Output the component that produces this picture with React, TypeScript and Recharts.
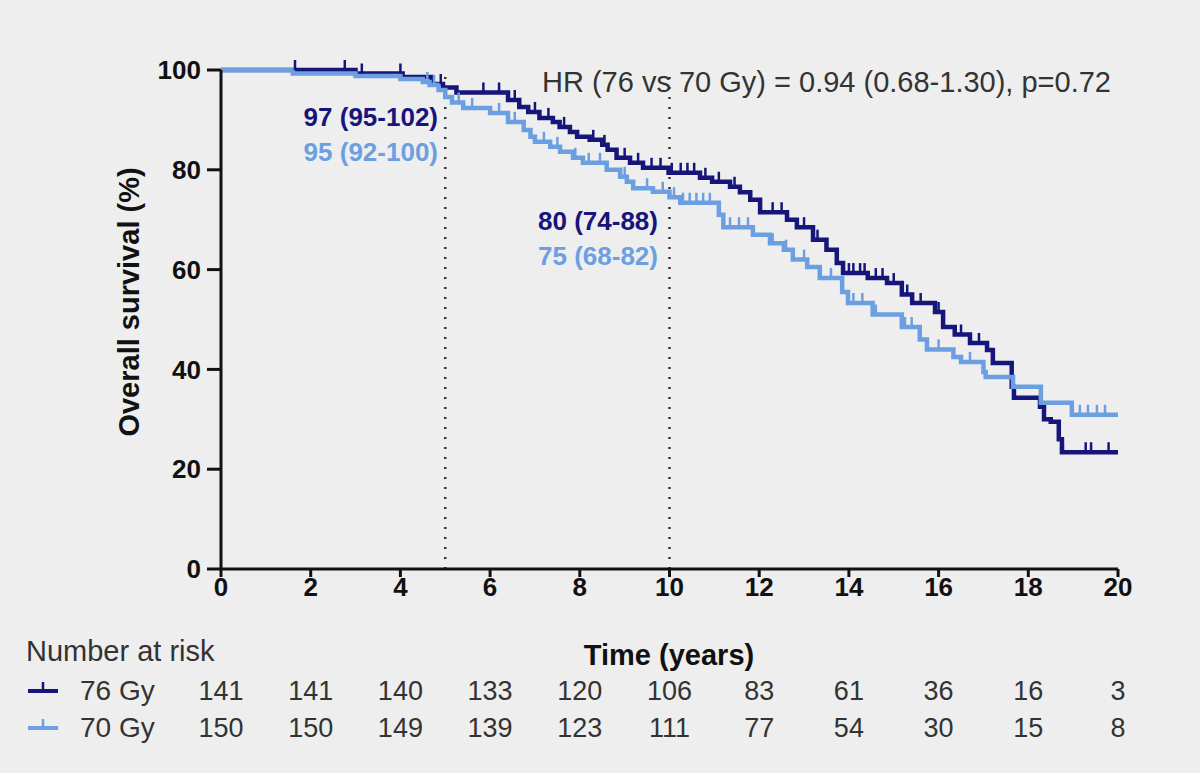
import React from 'react';
import {
  ComposedChart,
  Line,
  Scatter,
  XAxis,
  YAxis,
  ReferenceLine,
} from 'recharts';

// Kaplan-Meier steps, [time (years), survival (%)]
const steps76: [number, number][] = [
  [0, 100], [3.0, 99.3], [4.05, 98.6], [4.7, 97.2], [4.95, 96.5], [5.25, 95.5],
  [6.4, 94], [6.65, 92.6], [6.85, 91.6], [7.1, 90.4], [7.4, 89.6], [7.55, 88.6],
  [7.78, 87.6], [7.94, 86.6], [8.22, 86], [8.5, 85], [8.62, 84], [8.82, 82.4],
  [9.12, 81.4], [9.41, 80.4], [9.98, 79.4], [10.68, 78.4], [10.95, 77.6],
  [11.35, 76.6], [11.57, 75.5], [11.8, 74], [12.02, 71.5], [12.62, 70],
  [12.84, 68.5], [13.2, 66], [13.5, 64], [13.73, 61.3], [13.87, 59.3],
  [14.42, 58.3], [14.85, 57.3], [15.18, 55], [15.41, 53.3], [15.92, 51.5],
  [16.1, 48.5], [16.36, 47], [16.7, 45.3], [17.08, 43.9], [17.21, 41.3],
  [17.63, 36.5], [17.68, 34.3], [18.26, 32.5], [18.35, 30], [18.5, 29.5],
  [18.68, 26], [18.75, 23.4], [20, 23.4],
];

const steps70: [number, number][] = [
  [0, 100], [1.6, 99.3], [3.0, 98.8], [4.0, 98.2], [4.5, 97.6], [4.65, 97],
  [4.85, 96], [5.0, 94.6], [5.15, 93.5], [5.4, 92.4], [6.0, 91.4], [6.4, 89.6],
  [6.75, 88], [6.9, 86.6], [7.0, 85.6], [7.34, 84.6], [7.56, 83.6], [7.85, 82.4],
  [8.07, 81.4], [8.6, 80], [8.9, 78.6], [9.05, 77.6], [9.19, 76.3], [9.63, 75.6],
  [10.0, 74.5], [10.24, 73.4], [11.1, 71], [11.2, 68.5], [11.86, 67],
  [12.24, 65.3], [12.55, 64], [12.75, 62], [13.07, 60.5], [13.35, 58.3],
  [13.85, 55.5], [13.98, 53.3], [14.53, 51], [15.18, 48.5], [15.58, 46],
  [15.74, 44], [16.33, 42.5], [16.5, 41.5], [17.0, 39.5], [17.05, 38.5],
  [17.66, 36.5], [18.28, 33.3], [18.97, 30.9], [20, 30.9],
];

// censoring times (years)
const censor76 = [
  1.65, 2.76, 3.14, 4.0, 4.9, 5.85, 6.2, 6.55, 7.0, 7.3, 7.65, 8.3, 8.55, 9.0,
  9.3, 9.6, 9.8, 10.05, 10.25, 10.4, 10.55, 10.8, 11.1, 11.45, 12.3, 12.5,
  13.0, 13.3, 14.0, 14.1, 14.25, 14.35, 14.6, 14.75, 15.0, 15.3, 15.6, 16.0,
  16.5, 16.9, 18.77, 19.28, 19.4, 19.79,
];
const censor70 = [
  4.6, 4.75, 5.3, 5.6, 6.2, 6.55, 7.2, 7.5, 7.9, 8.2, 8.45, 9.0, 9.5, 9.85,
  10.1, 10.3, 10.45, 10.6, 10.75, 10.9, 11.35, 11.55, 11.75, 12.3, 12.6, 13.0,
  13.6, 14.1, 14.3, 14.6, 15.25, 15.4, 16.0, 16.7, 19.15, 19.33, 19.53, 19.71,
];

const timeTicks = [0, 2, 4, 6, 8, 10, 12, 14, 16, 18, 20];
const survivalTicks = [0, 20, 40, 60, 80, 100];
const atRisk76 = [141, 141, 140, 133, 120, 106, 83, 61, 36, 16, 3];
const atRisk70 = [150, 150, 149, 139, 123, 111, 77, 54, 30, 15, 8];

const DARK = '#15157a';
const LIGHT = '#6c9fe2';
const FONT = '"Liberation Sans", Arial, Helvetica, sans-serif';

const PLOT_LEFT = 221;
const PLOT_RIGHT = 1118;

const toPoints = (s: [number, number][]) => s.map(([t, v]) => ({ t, s: v }));
const survivalAt = (s: [number, number][], t: number) => {
  let v = s[0][1];
  for (const [tt, vv] of s) if (tt <= t) v = vv;
  return v;
};
const censorPoints = (s: [number, number][], times: number[]) =>
  times.map((t) => ({ t, s: survivalAt(s, t) }));

const CensorTick = (color: string) => (props: any) => {
  const { cx, cy } = props;
  if (cx == null || cy == null) return <g />;
  return <line x1={cx} x2={cx} y1={cy} y2={cy - 10} stroke={color} strokeWidth={2.5} />;
};

const text = (extra: React.CSSProperties): React.CSSProperties => ({
  position: 'absolute',
  fontFamily: FONT,
  lineHeight: 1,
  whiteSpace: 'nowrap',
  ...extra,
});

const App: React.FC = () => {
  const tickX = (i: number) => PLOT_LEFT + (i * (PLOT_RIGHT - PLOT_LEFT)) / (timeTicks.length - 1);

  return (
    <div style={{ position: 'absolute', left: 0, top: 0, width: 1200, height: 773, background: '#eeeeee' }}>
      <ComposedChart
        width={1200}
        height={773}
        margin={{ top: 70, right: 82, bottom: 154, left: 141 }}
      >
        <XAxis
          type="number"
          dataKey="t"
          domain={[0, 20]}
          ticks={timeTicks}
          height={50}
          axisLine={{ stroke: '#111', strokeWidth: 3 }}
          tickLine={{ stroke: '#111', strokeWidth: 3 }}
          tickSize={8}
          tickMargin={1}
          tick={{ fill: '#111', fontSize: 26, fontWeight: 700, fontFamily: FONT }}
        />
        <YAxis
          type="number"
          dataKey="s"
          domain={[0, 100]}
          ticks={survivalTicks}
          width={80}
          axisLine={{ stroke: '#111', strokeWidth: 3 }}
          tickLine={{ stroke: '#111', strokeWidth: 3 }}
          tickSize={14}
          tickMargin={6}
          tick={{ fill: '#111', fontSize: 26, fontWeight: 700, fontFamily: FONT }}
        />
        <ReferenceLine
          segment={[{ x: 5, y: 0 }, { x: 5, y: 99 }]}
          stroke="#333"
          strokeWidth={2.5}
          strokeDasharray="2 8"
        />
        <ReferenceLine
          segment={[{ x: 10, y: 0 }, { x: 10, y: 99 }]}
          stroke="#333"
          strokeWidth={2.5}
          strokeDasharray="2 8"
        />
        <Line
          data={toPoints(steps76)}
          dataKey="s"
          type="stepAfter"
          stroke={DARK}
          strokeWidth={4.5}
          dot={false}
          activeDot={false}
          isAnimationActive={false}
        />
        <Scatter
          data={censorPoints(steps76, censor76)}
          dataKey="s"
          shape={CensorTick(DARK)}
          isAnimationActive={false}
        />
        <Line
          data={toPoints(steps70)}
          dataKey="s"
          type="stepAfter"
          stroke={LIGHT}
          strokeWidth={4.5}
          dot={false}
          activeDot={false}
          isAnimationActive={false}
        />
        <Scatter
          data={censorPoints(steps70, censor70)}
          dataKey="s"
          shape={CensorTick(LIGHT)}
          isAnimationActive={false}
        />
      </ComposedChart>

      {/* y axis title */}
      <div
        style={text({
          left: 129,
          top: 302,
          fontSize: 29,
          fontWeight: 700,
          color: '#111',
          transform: 'translate(-50%, -50%) rotate(-90deg)',
        })}
      >
        Overall survival (%)
      </div>

      {/* annotations */}
      <div style={text({ right: 1200 - 1111, top: 82, transform: 'translateY(-50%)', fontSize: 29, color: '#333' })}>
        HR (76 vs 70 Gy) = 0.94 (0.68-1.30), p=0.72
      </div>
      <div style={text({ right: 1200 - 438, top: 117, transform: 'translateY(-50%)', fontSize: 26, fontWeight: 700, color: DARK })}>
        97 (95-102)
      </div>
      <div style={text({ right: 1200 - 438, top: 152, transform: 'translateY(-50%)', fontSize: 26, fontWeight: 700, color: LIGHT })}>
        95 (92-100)
      </div>
      <div style={text({ right: 1200 - 658, top: 221, transform: 'translateY(-50%)', fontSize: 26, fontWeight: 700, color: DARK })}>
        80 (74-88)
      </div>
      <div style={text({ right: 1200 - 658, top: 256, transform: 'translateY(-50%)', fontSize: 26, fontWeight: 700, color: LIGHT })}>
        75 (68-82)
      </div>

      {/* x axis title */}
      <div style={text({ left: 669, top: 655, transform: 'translate(-50%, -50%)', fontSize: 29, fontWeight: 700, color: '#111' })}>
        Time (years)
      </div>

      {/* number at risk table */}
      <div style={text({ left: 26, top: 651, transform: 'translateY(-50%)', fontSize: 29, color: '#333' })}>
        Number at risk
      </div>
      {[
        { label: '76 Gy', color: DARK, values: atRisk76, y: 691 },
        { label: '70 Gy', color: LIGHT, values: atRisk70, y: 728 },
      ].map((row) => (
        <React.Fragment key={row.label}>
          <svg style={{ position: 'absolute', left: 26, top: row.y - 12, width: 34, height: 20 }}>
            <line x1={2} x2={32} y1={12} y2={12} stroke={row.color} strokeWidth={4} />
            <line x1={17} x2={17} y1={12} y2={3} stroke={row.color} strokeWidth={2.5} />
          </svg>
          <div style={text({ left: 80, top: row.y, transform: 'translateY(-50%)', fontSize: 28, color: '#333' })}>
            {row.label}
          </div>
          {row.values.map((v, i) => (
            <div
              key={i}
              style={text({ left: tickX(i), top: row.y, transform: 'translate(-50%, -50%)', fontSize: 27, color: '#333' })}
            >
              {v}
            </div>
          ))}
        </React.Fragment>
      ))}
    </div>
  );
};

export default App;
